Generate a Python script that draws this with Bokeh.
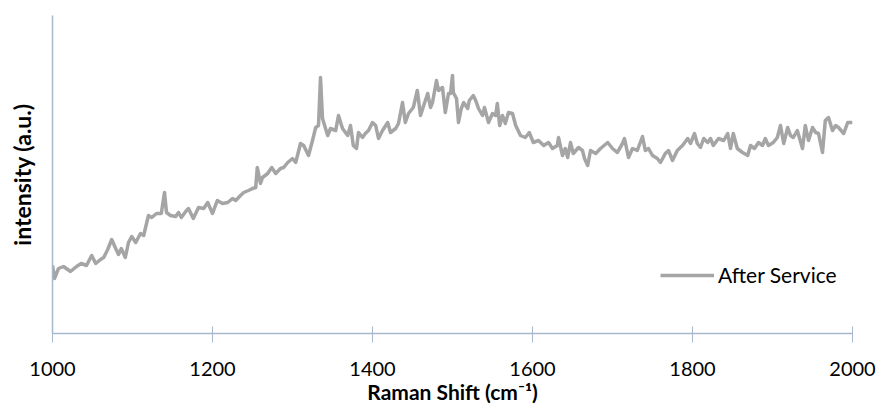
from bokeh.plotting import figure
from bokeh.models import Range1d, FixedTicker, Legend, LegendItem
from bokeh.embed import file_html
from bokeh.resources import INLINE

raman_shift = [
    1000, 1002.5, 1007.5, 1013.75, 1022.5, 1030, 1036, 1042.5, 1049, 1054, 1060, 1064, 1069, 1074,
    1079, 1082.5, 1086, 1091, 1095, 1099, 1104, 1110, 1114, 1117.5, 1120, 1124, 1130, 1136, 1140,
    1142.5, 1147.5, 1154, 1157.5, 1161, 1167.5, 1170, 1176, 1182.5, 1189, 1194, 1200, 1206, 1212.5,
    1219, 1225, 1229, 1235, 1239, 1245, 1250, 1254, 1256, 1260, 1262.5, 1269, 1274, 1279, 1285,
    1289, 1294, 1300, 1304, 1310, 1314, 1320, 1325, 1329, 1332.5, 1335, 1337.5, 1344, 1347.5,
    1354, 1357.5, 1362.5, 1369, 1372.5, 1376, 1380, 1382.5, 1387.5, 1391, 1395, 1400, 1404,
    1407.5, 1412.5, 1419, 1422.5, 1429, 1432.5, 1437.5, 1441, 1445, 1451, 1456, 1460, 1464, 1469,
    1472.5, 1475, 1480, 1482.5, 1487.5, 1491, 1495, 1497.5, 1500, 1501, 1505, 1507.5, 1511, 1514,
    1519, 1521, 1526, 1529, 1532.5, 1537.5, 1540, 1545, 1550, 1554, 1556, 1559, 1562.5, 1566,
    1570, 1575, 1579, 1585, 1591, 1596, 1601, 1607.5, 1614, 1620, 1625, 1631, 1632.5, 1637.5,
    1641, 1644, 1647.5, 1651, 1657.5, 1662.5, 1665, 1669, 1672.5, 1679, 1685, 1694, 1700, 1706,
    1712.5, 1715, 1720, 1725, 1731, 1737.5, 1741, 1745, 1750, 1756, 1760, 1766, 1770, 1775, 1781,
    1787.5, 1794, 1797.5, 1802.5, 1806, 1810, 1814, 1819, 1822.5, 1826, 1832.5, 1839, 1844,
    1847.5, 1851, 1856, 1862.5, 1869, 1872.5, 1877.5, 1882.5, 1887.5, 1891, 1895, 1901, 1906,
    1910, 1914, 1919, 1922.5, 1926, 1931, 1937.5, 1941, 1945, 1950, 1954, 1957.5, 1962.5, 1966,
    1970, 1975, 1979, 1982.5, 1989, 1994, 2000,
]
intensity = [
    68, 55, 65, 67, 62, 67, 70, 68, 78, 70, 74, 76, 84, 94,
    85, 79, 85, 76, 91, 97, 91, 100, 98, 110, 118, 116, 120, 120, 141,
    121, 118, 117, 121, 116, 123, 125, 115, 126, 125, 131, 120, 133, 130,
    131, 135, 133, 138, 141, 143, 145, 146, 166, 150, 156, 160, 166, 160, 165,
    166, 171, 175, 171, 190, 188, 178, 193, 206, 208, 256, 215, 198, 205,
    203, 218, 205, 198, 208, 188, 185, 201, 196, 200, 203, 211, 208,
    195, 203, 211, 201, 205, 210, 231, 211, 220, 226, 243, 218, 228, 240,
    226, 231, 253, 243, 246, 221, 240, 240, 258, 241, 235, 211, 225, 231,
    225, 233, 238, 233, 225, 218, 226, 211, 220, 218, 230, 208, 218, 210,
    221, 220, 208, 198, 196, 201, 191, 193, 188, 191, 185, 188, 196, 178,
    185, 176, 191, 180, 186, 183, 175, 168, 183, 180, 185, 191, 185, 181,
    190, 195, 176, 185, 183, 197, 183, 185, 178, 175, 171, 180, 183, 173, 183,
    188, 195, 190, 200, 190, 186, 195, 191, 195, 188, 195, 193, 200,
    185, 200, 185, 181, 178, 188, 185, 191, 188, 195, 188, 191, 196,
    208, 190, 206, 198, 196, 203, 185, 208, 193, 206, 201, 200, 181, 213,
    216, 203, 208, 206, 200, 211, 211,
]
x_ticks = [1000, 1200, 1400, 1600, 1800, 2000]
series_name = "After Service"

p = figure(width=878, height=410, output_backend="svg", toolbar_location=None,
           x_range=Range1d(1000, 2000), y_range=Range1d(0, 318),
           min_border_left=52, min_border_right=26, min_border_top=15, min_border_bottom=77)
p.outline_line_color = None
p.xgrid.grid_line_color = None
p.ygrid.grid_line_color = None
p.background_fill_color = "white"
p.border_fill_color = "white"

r = p.line(raman_shift, intensity, line_color="#A5A5A5", line_width=3.5, line_join="round")

axis_color = "#A8B8CC"
xa = p.xaxis[0]
xa.ticker = FixedTicker(ticks=x_ticks)
xa.axis_line_color = axis_color
xa.axis_line_width = 1.5
xa.major_tick_line_color = axis_color
xa.major_tick_in = 7
xa.major_tick_out = 9
xa.minor_tick_line_color = None
xa.major_label_text_font = "Lato"
xa.major_label_text_font_size = "20px"
xa.major_label_text_color = "#000000"
xa.major_label_standoff = 19
xa.axis_label = "Raman Shift (cm\u207b\u00b9)"
xa.axis_label_text_font = "Lato"
xa.axis_label_text_font_size = "21px"
xa.axis_label_text_font_style = "bold"
xa.axis_label_text_color = "#000000"
xa.axis_label_standoff = 0

ya = p.yaxis[0]
ya.ticker = FixedTicker(ticks=[])
ya.axis_line_color = axis_color
ya.axis_line_width = 1.5
ya.major_tick_line_color = None
ya.minor_tick_line_color = None
ya.major_label_text_font_size = "0px"
ya.axis_label = "intensity (a.u.)"
ya.axis_label_text_font = "Lato"
ya.axis_label_text_font_size = "23px"
ya.axis_label_text_font_style = "bold"
ya.axis_label_text_color = "#000000"
ya.axis_label_standoff = 17

legend = Legend(items=[LegendItem(label=series_name, renderers=[r])],
                location=(608, 46), glyph_width=54, glyph_height=20, label_standoff=4,
                padding=0, margin=0, spacing=0,
                border_line_alpha=0, background_fill_alpha=0,
                label_text_font="Lato", label_text_font_size="21px", label_text_color="#000000")
p.add_layout(legend)

open("out.html", "w").write(file_html(p, INLINE))
